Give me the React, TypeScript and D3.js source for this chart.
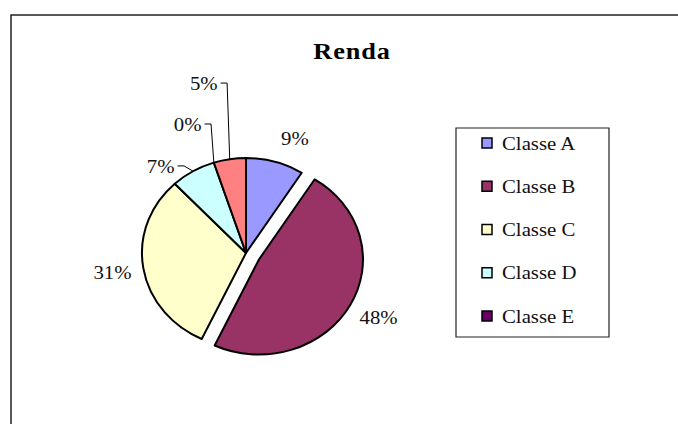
import React from "react";
import * as d3 from "d3";

const categories = ["Classe A", "Classe B", "Classe C", "Classe D", "Classe E", "Classe F"];
const values = [9, 48, 31, 7, 0, 5];
const colors = ["#9999FF", "#993366", "#FFFFCC", "#CCFFFF", "#660066", "#FF8080"];
const legendCount = 5;
const title = "Renda";
// leader-line elbows for the small slices: [angle in degrees, radius factor]
const leaderElbow: ([number, number] | null)[] = [null, null, null, [327, 1.093], [346.1, 1.399], [354.2, 1.798]];
// small angular nudges of the outside labels (degrees)
const labelNudge = [5, -1, 0, 0, 0, 0];
const explodedIndex = 1;

const W = 678;
const H = 424;
const SX = 1.095; // horizontal stretch of the original picture
const cx = 246 / SX;
const cy = 253;
const R = 95;
const explode = 13.5;
const font = "'Liberation Serif', 'Times New Roman', serif";

export default function App() {
  const total = d3.sum(values);
  const pie = d3.pie<number>().sort(null).value((d) => d).startAngle(0).endAngle(2 * Math.PI);
  const arcs = pie(values);
  const arc = d3.arc<d3.PieArcDatum<number>>().innerRadius(0).outerRadius(R);
  const pt = (ang: number, r: number) => [Math.sin(ang) * r, -Math.cos(ang) * r];

  const legendY = d3.scalePoint<string>().domain(categories.slice(0, legendCount)).range([143, 316]);
  const legLeft = 456 / SX;
  const legRight = 609 / SX;

  return (
    <svg width={W} height={H} style={{ position: "absolute", left: 0, top: 0, background: "#fff" }}>
      <g transform={`scale(${SX},1)`}>
        <rect x={11 / SX} y={15} width={800} height={500} fill="#fff" stroke="#222" strokeWidth={1.5} vectorEffect="non-scaling-stroke" />
        <text x={352 / SX} y={59} textAnchor="middle" fontFamily={font} fontWeight="bold" fontSize={24} letterSpacing={0.8}>
          {title}
        </text>
        <g transform={`translate(${cx},${cy})`}>
          {arcs.map((a, i) => {
            const mid = (a.startAngle + a.endAngle) / 2;
            const [ox, oy] = i === explodedIndex ? pt(mid, explode) : [0, 0];
            if (a.endAngle - a.startAngle <= 0) return null;
            return (
              <path
                key={i}
                d={arc(a) || ""}
                transform={`translate(${ox},${oy})`}
                fill={colors[i]}
                stroke="#000"
                strokeWidth={2}
                strokeLinejoin="round"
                vectorEffect="non-scaling-stroke"
              />
            );
          })}
          {arcs.map((a, i) => {
            const mid = (a.startAngle + a.endAngle) / 2;
            const label = `${Math.round((values[i] / total) * 100)}%`;
            const elbow = leaderElbow[i];
            if (elbow) {
              const [ex, ey] = pt(mid, R);
              const [bx, by] = pt((elbow[0] * Math.PI) / 180, elbow[1] * R);
              const hx = bx - 6.5 / SX;
              return (
                <g key={i}>
                  <polyline
                    points={`${ex},${ey} ${bx},${by} ${hx},${by}`}
                    fill="none"
                    stroke="#000"
                    strokeWidth={1}
                    vectorEffect="non-scaling-stroke"
                  />
                  <text x={hx - 3 / SX} y={by} textAnchor="end" dominantBaseline="central" fontFamily={font} fontSize={19} fill="#111">
                    {label}
                  </text>
                </g>
              );
            }
            const [ox, oy] = i === explodedIndex ? pt(mid, explode) : [0, 0];
            const [lx, ly] = pt(mid + (labelNudge[i] * Math.PI) / 180, R * 1.3);
            return (
              <text key={i} x={lx + ox} y={ly + oy} textAnchor="middle" dominantBaseline="central" fontFamily={font} fontSize={19} fill="#111">
                {label}
              </text>
            );
          })}
        </g>
        <rect x={legLeft} y={128} width={legRight - legLeft} height={209} fill="#fff" stroke="#222" strokeWidth={1.2} vectorEffect="non-scaling-stroke" />
        {categories.slice(0, legendCount).map((c, i) => {
          const y = legendY(c) || 0;
          return (
            <g key={c}>
              <rect x={482 / SX} y={y - 5} width={10 / SX} height={10} fill={colors[i]} stroke="#000" strokeWidth={1.5} vectorEffect="non-scaling-stroke" />
              <text x={502 / SX} y={y} dominantBaseline="central" fontFamily={font} fontSize={19} fill="#111">
                {c}
              </text>
            </g>
          );
        })}
      </g>
    </svg>
  );
}
